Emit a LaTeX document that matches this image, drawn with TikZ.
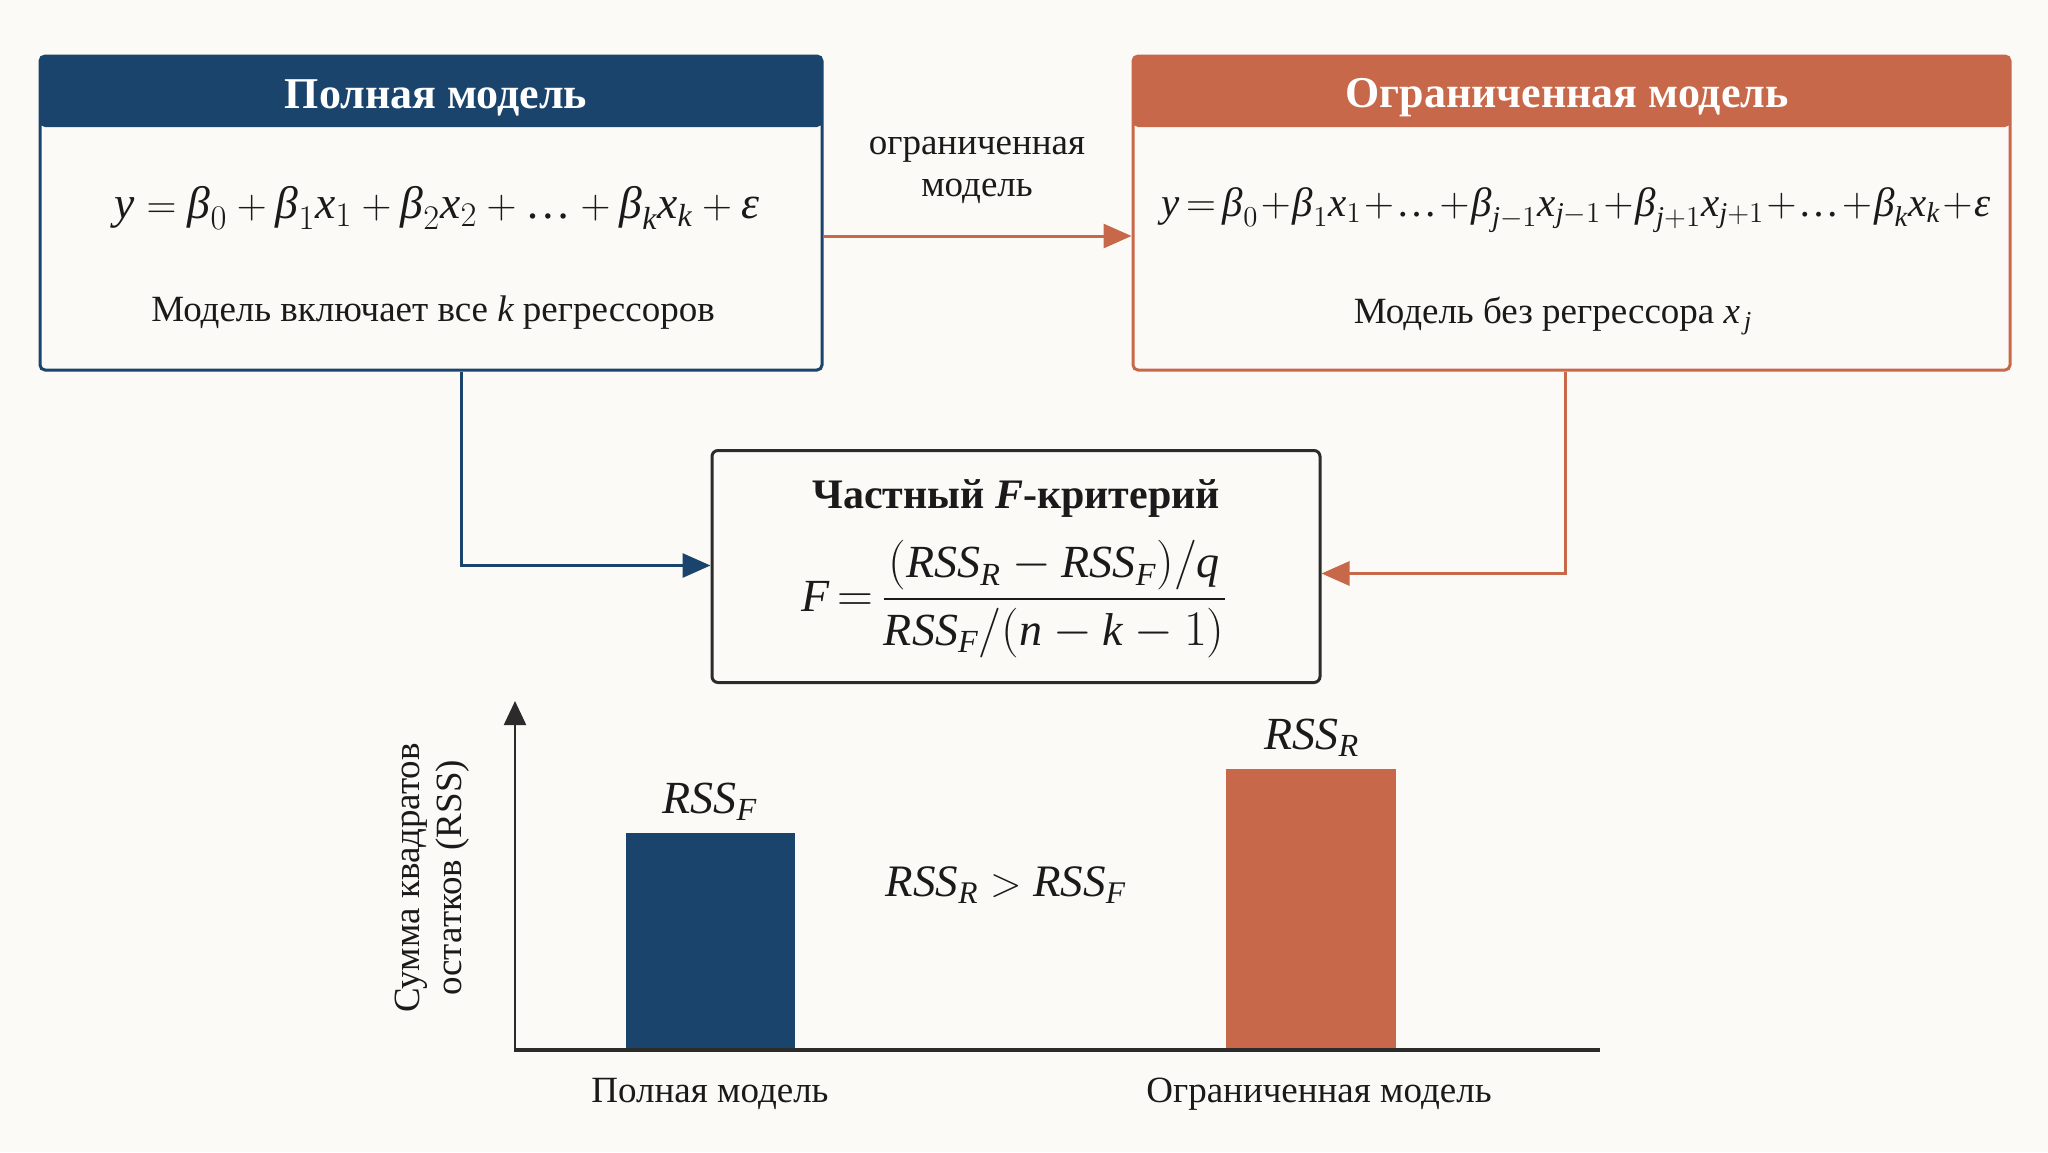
\documentclass[tikz,border=0pt]{standalone}
\usepackage{amsmath}
\usepackage{fontspec}
\setmainfont{Liberation Serif}
\usetikzlibrary{arrows.meta}
\definecolor{cblue}{HTML}{1B446C}
\definecolor{corange}{HTML}{C8684A}
\definecolor{cbg}{HTML}{FCFAF6}
\definecolor{cdark}{HTML}{2B2B2B}
\definecolor{ctext}{HTML}{1A1A1A}
\newcommand{\mi}[1]{\mathit{#1}}
\newcommand{\gbeta}{\text{\itshape β}}
\newcommand{\geps}{\text{\itshape ε}}
\newcommand{\tdots}{\text{…}}
\newcommand{\rss}[1]{\mathit{RSS}_{\mathit{#1}}}
\tikzset{
  modelbox/.style={draw=#1, line width=1.5pt, rounded corners=2.5pt, fill=cbg,
    minimum width=391pt, minimum height=157pt,
    path picture={\fill[#1] (path picture bounding box.north west) rectangle ([yshift=-35.5pt]path picture bounding box.north east);}},
  titletext/.style={text=white, font=\fontsize{22}{26}\selectfont\bfseries},
  bodytext/.style={text=ctext, font=\fontsize{18.5}{21}\selectfont},
  mathtext/.style={text=ctext, font=\fontsize{21.5}{26}\selectfont},
  conn/.style={line width=1.5pt, -{Triangle[length=14pt,width=12pt]}},
  axisline/.style={line width=1.2pt, draw=cdark},
}
\begin{document}
\begin{tikzpicture}[x=0.5pt,y=-0.5pt]
\useasboundingbox[fill=cbg] (0,0) rectangle (2048,1152);
% boxes
\node[modelbox=cblue] (fb) at (431,213) {};
\node[modelbox=corange, minimum width=438.5pt] (fr) at (1571.5,213) {};
\node[draw=cdark, line width=1.5pt, rounded corners=3pt, fill=cbg, minimum width=304pt, minimum height=116pt] (fc) at (1016,566.5) {};
% titles
\node[titletext] (fbt) at (436,98) {Полная модель};
\node[titletext] (frt) at (1567,98) {Ограниченная модель};
% contents
\node[mathtext, font=\fontsize{22.8}{27}\selectfont] (fbf) at (437,208) {$\mi{y} = \gbeta_0 + \gbeta_1 \mi{x}_1 + \gbeta_2 \mi{x}_2 + \tdots + \gbeta_{\mi{k}} \mi{x}_{\mi{k}} + \geps$};
\node[bodytext] (fbd) at (433,313) {Модель включает все $\mi{k}$ регрессоров};
\node[mathtext, font=\fontsize{20.5}{26}\selectfont] (frf) at (1576,210) {$\medmuskip=1mu \thickmuskip=3mu \mi{y} = \gbeta_0+\gbeta_1\mi{x}_1+\tdots+\gbeta_{\mi{j}-1}\mi{x}_{\mi{j}-1}+\gbeta_{\mi{j}+1}\mi{x}_{\mi{j}+1}+\tdots+\gbeta_{\mi{k}}\mi{x}_{\mi{k}}+\geps$};
\node[bodytext] (frd) at (1553,316) {Модель без регрессора $\mi{x}_{\,\mi{j}}$};
% middle
\node[text=ctext, font=\fontsize{21}{25}\selectfont\bfseries] (fct) at (1016,499) {Частный \textit{F}-критерий};
\node[mathtext, font=\fontsize{23}{28}\selectfont] (fcf) at (1014,599) {$\mi{F} \mathrel{\mkern-2mu=\mkern-2mu} \dfrac{(\rss{R} - \rss{F})/\mi{q}}{\rss{F}/(\mi{n}-\mi{k}-1)}$};
% top label
\node[bodytext, align=center] (lbl) at (977,170) {ограниченная\\модель};
% connectors
\draw[conn, corange] ([yshift=-11.5pt]fb.east) -- ([yshift=-11.5pt]fb.east -| fr.west);
\draw[conn, cblue] ([xshift=15pt]fb.south) |- ([yshift=0.5pt]fc.west);
\draw[conn, corange] ([xshift=-3.25pt]fr.south) |- ([yshift=-3.5pt]fc.east);
% chart
\fill[cblue] (626,833) rectangle (795,1050);
\fill[corange] (1226,769) rectangle (1396,1050);
\coordinate (o) at (515,1050);
\coordinate (ytop) at (515,701);
\coordinate (xend) at (1600,1050);
\draw[axisline, -{Triangle[length=12pt,width=11pt]}] (o) -- (ytop);
\draw[axisline, line width=1.6pt] ([xshift=-0.6pt]o) -- (xend);
\node[mathtext, font=\fontsize{23}{28}\selectfont] (rf) at (710,802) {$\rss{F}$};
\node[mathtext, font=\fontsize{23}{28}\selectfont] (rr) at (1312,738) {$\rss{R}$};
\node[mathtext, font=\fontsize{22.5}{28}\selectfont] (cmp) at (1006,885) {$\rss{R} > \rss{F}$};
\node[bodytext] (xl1) at (710,1094) {Полная модель};
\node[bodytext] (xl2) at (1319,1094) {Ограниченная модель};
\node[bodytext, rotate=90, align=center] (yl) at (432,878) {Сумма квадратов\\остатков (RSS)};
\end{tikzpicture}
\end{document}
